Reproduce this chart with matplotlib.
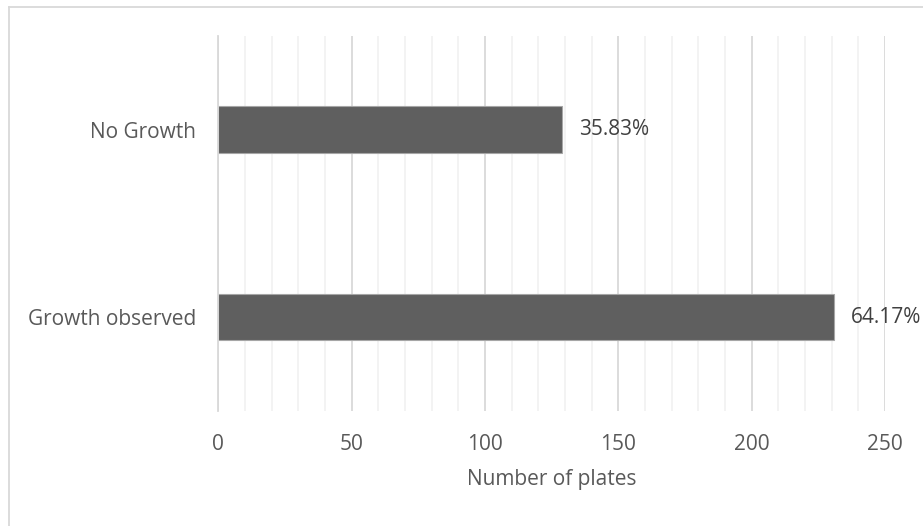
import matplotlib
matplotlib.use("Agg")
import matplotlib.pyplot as plt
from matplotlib.lines import Line2D

categories = ["Growth observed", "No Growth"]
values = [231, 129]
pct_labels = ["64.17%", "35.83%"]
x_ticks = [0, 50, 100, 150, 200, 250]
x_label = "Number of plates"

W, H = 923, 526
plt.rcParams['font.family'] = ['Open Sans', 'DejaVu Sans']
fig = plt.figure(figsize=(W / 100, H / 100), dpi=100)
fig.patch.set_facecolor("white")

left, right, top, bottom = 218.3, 885, 36, 410.7
ax = fig.add_axes([left / W, 1 - bottom / H, (right - left) / W, (bottom - top) / H])

txt = "#595959"
fs = 15

ax.set_xlim(0, 250)
ax.set_ylim(-0.5, 1.5)
ax.set_xticks(x_ticks)
ax.set_xticks(range(0, 251, 10), minor=True)
ax.grid(axis="x", which="minor", color="#f2f2f2", linewidth=1.3)
ax.grid(axis="x", which="major", color="#d9d9d9", linewidth=1.3)
ax.set_axisbelow(True)

ypos = list(range(len(categories)))
bars = ax.barh(ypos, values, height=0.25, color="#5f5f5f", edgecolor="#a6a6a6", linewidth=0.8)
for y, v, lab in zip(ypos, values, pct_labels):
    ax.annotate(lab, (v, y), xytext=(12, 0), textcoords="offset points",
                va="center", ha="left", color="#404040", fontsize=fs, annotation_clip=False)

ax.set_yticks(ypos)
ax.set_yticklabels(categories)
for s in ["top", "right", "bottom"]:
    ax.spines[s].set_visible(False)
ax.spines["left"].set_color("#d9d9d9")
ax.spines["left"].set_linewidth(1.3)
ax.tick_params(axis="both", which="both", length=0, colors=txt, labelsize=fs)
ax.tick_params(axis="x", pad=17)
ax.tick_params(axis="y", pad=16)
ax.set_xlabel(x_label, color=txt, fontsize=fs, labelpad=10)

# chart frame (top and left edges visible)
fig.add_artist(Line2D([8.5 / W, 8.5 / W], [0, 1 - 7 / H], transform=fig.transFigure, color="#d9d9d9", linewidth=1.3))
fig.add_artist(Line2D([8.5 / W, 1], [1 - 7 / H, 1 - 7 / H], transform=fig.transFigure, color="#d9d9d9", linewidth=1.3))

fig.savefig("out.png", dpi=100, facecolor="white")
